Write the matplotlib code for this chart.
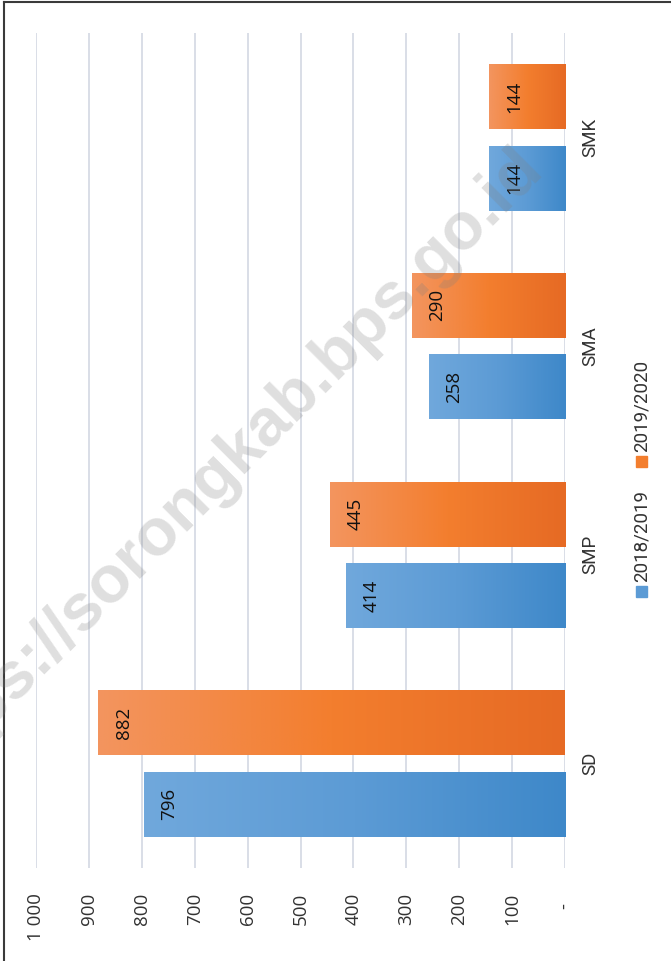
import numpy as np
import matplotlib.pyplot as plt
from matplotlib.colors import LinearSegmentedColormap
from matplotlib.patches import Rectangle
from matplotlib.lines import Line2D

categories = ['SD', 'SMP', 'SMA', 'SMK']
series_names = ['2018/2019', '2019/2020']
val_1819 = [796, 414, 258, 144]
val_1920 = [882, 445, 290, 144]
xticks = [0, 100, 200, 300, 400, 500, 600, 700, 800, 900, 1000]
xtick_labels = ['-  ', '100', '200', '300', '400', '500', '600', '700', '800', '900', '1 000']

blue_cmap = LinearSegmentedColormap.from_list('b', ['#70A8DC', '#5C9BD5', '#3E88C9'])
orange_cmap = LinearSegmentedColormap.from_list('o', ['#F3955F', '#F37E2E', '#E66A24'])

num_font = ['Open Sans', 'DejaVu Sans']
cat_font = ['Roboto', 'DejaVu Sans']

W, H = 671, 961
fig = plt.figure(figsize=(W / 100, H / 100), dpi=100)
ax = fig.add_axes([36 / W, (H - 868) / H, (565 - 36) / W, (868 - 33) / H])

bh = 0.311
off = 0.195
grad = np.linspace(0, 1, 256).reshape(1, -1)
y = np.arange(len(categories))

for i in range(len(categories)):
    for vals, cmap, dy in ((val_1819, blue_cmap, -off), (val_1920, orange_cmap, off)):
        v = vals[i]
        yc = y[i] + dy
        ax.imshow(grad, cmap=cmap, aspect='auto', interpolation='bilinear',
                  extent=(v, 0, yc - bh / 2, yc + bh / 2), zorder=2)
        ax.annotate(f'{v}', xy=(v, yc), xytext=(18.5, 0), textcoords='offset points',
                    rotation=90, ha='center', va='center', fontsize=13.5,
                    family=num_font, color='#111111', zorder=5)

ax.set_xlim(1000, 0)
ax.set_ylim(-0.5, len(categories) - 0.5)
ax.set_xticks(xticks)
ax.set_xticklabels(xtick_labels, rotation=90, va='top', ha='center',
                   fontsize=13.5, family=num_font, color='#333333')
ax.set_yticks(y)
ax.set_yticklabels(categories, rotation=90, va='center', ha='left',
                   fontsize=13.5, family=cat_font, color='#333333')
ax.tick_params(axis='x', length=0, pad=18)
ax.tick_params(axis='y', length=0, pad=12, labelleft=False, labelright=True)
ax.grid(axis='x', color='#D9DEE7', lw=1.4, zorder=0)
ax.set_axisbelow(True)
for s in ax.spines.values():
    s.set_visible(False)

# legend, drawn by hand because it is rotated
for name, col, ybot in ((series_names[0], '#5C9BD5', 597), (series_names[1], '#F37E2E', 467)):
    fig.patches.append(Rectangle((636 / W, 1 - ybot / H), 11 / W, 11 / H,
                                 transform=fig.transFigure, color=col))
    fig.text(642 / W, 1 - (ybot - 15) / H, name, rotation=90, ha='center', va='bottom',
             fontsize=13.5, family=cat_font, color='#333333')

# watermark
fig.text(-88 / W, 1 - 778 / H, 'https://sorongkab.bps.go.id', rotation=45,
         rotation_mode='anchor', ha='left', va='center', fontsize=48,
         fontweight='bold', family=['Liberation Sans', 'DejaVu Sans'],
         color='#808080', alpha=0.25, zorder=4)

# outer frame
fig.add_artist(Line2D([4 / W, 4 / W], [0, 1 - 2 / H], color='#3a3a3a', lw=1.5))
fig.add_artist(Line2D([4 / W, 1], [1 - 2 / H, 1 - 2 / H], color='#3a3a3a', lw=1.5))

fig.savefig('out.png', dpi=100)
